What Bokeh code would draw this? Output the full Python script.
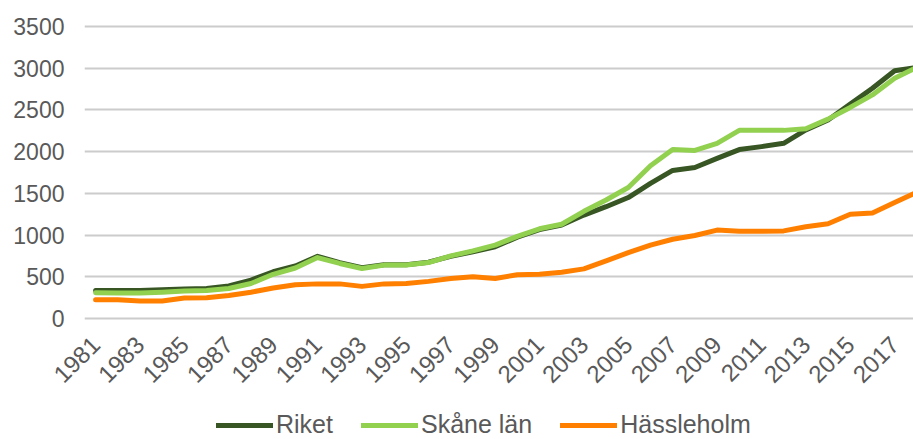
import math
from bokeh.plotting import figure
from bokeh.models import Range1d, FixedTicker, Legend, LegendItem
from bokeh.layouts import column
from bokeh.embed import file_html
from bokeh.resources import INLINE

years = list(range(1981, 2019))
riket = [335, 335, 335, 345, 355, 360, 390, 460, 560, 630, 745, 670, 610, 645, 645,
         675, 745, 800, 860, 975, 1065, 1120, 1240, 1340, 1450, 1620, 1775, 1810,
         1920, 2025, 2060, 2100, 2260, 2380, 2570, 2760, 2970, 3010]
skane = [310, 305, 305, 315, 330, 335, 360, 420, 530, 605, 730, 660, 600, 640, 640,
         670, 750, 810, 880, 985, 1075, 1130, 1285, 1420, 1570, 1830, 2025, 2015,
         2100, 2255, 2255, 2255, 2275, 2390, 2530, 2680, 2880, 3010]
hassleholm = [225, 225, 210, 210, 245, 250, 275, 315, 365, 405, 415, 415, 385, 415,
              420, 445, 480, 500, 480, 525, 530, 555, 595, 690, 790, 880, 950, 995,
              1060, 1045, 1045, 1050, 1100, 1135, 1250, 1265, 1390, 1515]
x_tick_years = [1981, 1983, 1985, 1987, 1989, 1991, 1993, 1995, 1997, 1999, 2001,
                2003, 2005, 2007, 2009, 2011, 2013, 2015, 2017]
y_ticks = [0, 500, 1000, 1500, 2000, 2500, 3000, 3500]
series_names = ["Riket", "Skåne län", "Hässleholm"]
series_colors = ["#375623", "#92D050", "#FF8000"]
series_values = [riket, skane, hassleholm]

FONT = "Liberation Sans"
TXT = "#595959"

p = figure(width=913, height=405, output_backend="svg", toolbar_location=None,
           x_range=Range1d(1980.5, 2017.85), y_range=Range1d(-24, 3620),
           min_border_left=84, min_border_right=0, min_border_top=16,
           min_border_bottom=85)
p.outline_line_color = None

p.xgrid.grid_line_color = None
p.ygrid.grid_line_color = "#cccccc"
p.ygrid.grid_line_width = 2

p.yaxis.ticker = FixedTicker(ticks=y_ticks)
p.yaxis.axis_line_color = None
p.yaxis.major_tick_line_color = None
p.yaxis.minor_tick_line_color = None
p.yaxis.major_tick_out = 0
p.yaxis.major_label_standoff = 20
p.yaxis.major_label_text_font = FONT
p.yaxis.major_label_text_font_size = "23px"
p.yaxis.major_label_text_color = TXT

p.xaxis.ticker = FixedTicker(ticks=x_tick_years)
p.xaxis.axis_line_color = None
p.xaxis.major_tick_line_color = None
p.xaxis.minor_tick_line_color = None
p.xaxis.major_tick_out = 0
p.xaxis.major_label_standoff = 20
p.xaxis.major_label_orientation = math.pi / 4
p.xaxis.major_label_text_font = FONT
p.xaxis.major_label_text_font_size = "24px"
p.xaxis.major_label_text_color = TXT

for col, vals in zip(series_colors, series_values):
    p.line(years, vals, line_color=col, line_width=5,
           line_join="round", line_cap="round")

# legend strip (separate small figure; its lines lie outside its visible range)
lg = figure(width=913, height=34, output_backend="svg", toolbar_location=None,
            x_range=Range1d(0, 1), y_range=Range1d(-2, -1),
            min_border=0, x_axis_type=None, y_axis_type=None)
lg.outline_line_color = None
lg.grid.grid_line_color = None
items = []
for name, col, vals in zip(series_names, series_colors, series_values):
    r = lg.line(years, vals, line_color=col, line_width=5, line_cap="round")
    items.append(LegendItem(label=name, renderers=[r]))
legend = Legend(items=items, orientation="horizontal", location=(132, 0),
                glyph_width=57, glyph_height=20, label_standoff=3, spacing=28,
                padding=0, margin=0, border_line_color=None,
                background_fill_alpha=0,
                label_text_font=FONT, label_text_font_size="25px",
                label_text_color=TXT)
lg.add_layout(legend, "center")

layout = column(p, lg, spacing=0)
open("out.html", "w").write(file_html(layout, INLINE))
